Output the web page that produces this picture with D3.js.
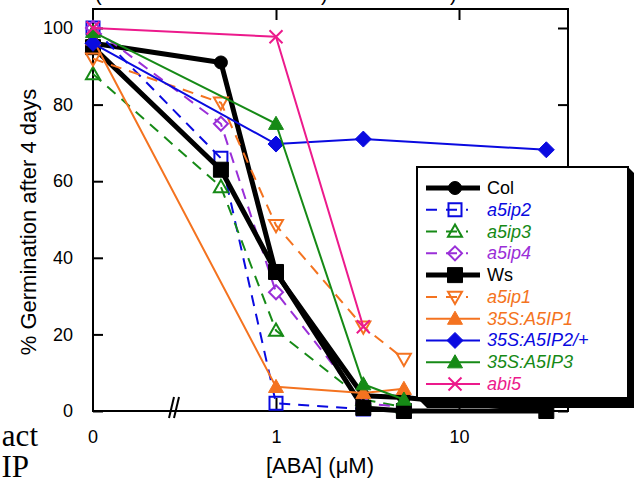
<!DOCTYPE html>
<html>
<head>
<meta charset="utf-8">
<script src="https://cdn.jsdelivr.net/npm/d3@7"></script>
<style>
  body { margin: 0; background: #fff; }
  svg { display: block; font-family: "Liberation Sans", Arial, Helvetica, sans-serif; }
</style>
</head>
<body>
<script>
(function(window){
    'use strict'

    // ABA concentration (uM); 0 sits on the y axis, left of the axis break
    var doses = [0, 0.5, 1, 3, 5, 30];

    // % germination after 4 days (null = no point at that dose)
    var col     = [96, 91, 36, 4, 3.5, 0];
    var a5ip2   = [100, 66, 2, 0.5, 0, null];
    var a5ip3   = [88, 58.5, 21, 3, 1, null];
    var a5ip4   = [100, 75, 31, 2, 1, null];
    var ws      = [95, 63, 36.3, 0.8, 0, 0];
    var a5ip1   = [92, 80.5, 48.5, 22, 13.6, null];
    var oxA5ip1 = [97, null, 6.3, 4.7, 5.8, null];
    var oxA5ip2 = [96, null, 69.7, 71, null, 68.2];
    var oxA5ip3 = [99, null, 75, 7, 3, null];
    var abi5    = [100, null, 97.7, 22, null, null];

    var names = ['Col', 'a5ip2', 'a5ip3', 'a5ip4', 'Ws', 'a5ip1',
                 '35S:A5IP1', '35S:A5IP2/+', '35S:A5IP3', 'abi5'];
    var yTicks = [0, 20, 40, 60, 80, 100];
    var xTicks = [1, 10];
    var xZeroLabel = '0';

    var BLUE = '#0a0ae0', GREEN = '#168a16', PURPLE = '#9a2fd8',
        ORANGE = '#f47320', PINK = '#ec1a8c';

    var series = [
        {v: col,     c: '#000', w: 5, dash: null, m: 'circle',  s: 6.5, fill: true,  it: false},
        {v: a5ip2,   c: BLUE,   w: 2, dash: '11,8', m: 'square', s: 6.5, fill: false, it: true},
        {v: a5ip3,   c: GREEN,  w: 2, dash: '11,8', m: 'up',     s: 7,   fill: false, it: true},
        {v: a5ip4,   c: PURPLE, w: 2, dash: '11,8', m: 'diamond',s: 7,   fill: false, it: true},
        {v: ws,      c: '#000', w: 5, dash: null, m: 'square',  s: 7.5, fill: true,  it: false},
        {v: a5ip1,   c: ORANGE, w: 2, dash: '11,8', m: 'down',   s: 7,   fill: false, it: true},
        {v: oxA5ip1, c: ORANGE, w: 2, dash: null, m: 'up',      s: 7.5, fill: true,  it: true},
        {v: oxA5ip2, c: BLUE,   w: 2, dash: null, m: 'diamond', s: 8,   fill: true,  it: true},
        {v: oxA5ip3, c: GREEN,  w: 2, dash: null, m: 'up',      s: 7.5, fill: true,  it: true},
        {v: abi5,    c: PINK,   w: 2, dash: null, m: 'x',       s: 6.5, fill: false, it: true}
    ];

    var W = 634, H = 480;
    var left = 93, right = 568, top = 9, bottom = 411;

    var xLog = d3.scaleLog().domain([1, 10]).range([276, 459]);
    var y = d3.scaleLinear().domain([0, 100]).range([bottom, 28]);
    function xPos(d) { return d === 0 ? left : xLog(d); }

    var svg = d3.select('body').append('svg')
        .attr('width', W)
        .attr('height', H);

    // bits of the surrounding page that are cut by the crop
    svg.append('g')
        .attr('font-size', 20)
        .selectAll('text')
        .data([['(', 95], [')', 321], [')', 450]])
        .enter().append('text')
        .attr('x', function(d){ return d[1]; })
        .attr('y', 1)
        .text(function(d){ return d[0]; });
    svg.append('g')
        .attr('font-family', '"Liberation Serif", "Times New Roman", serif')
        .attr('font-size', 31)
        .attr('text-anchor', 'end')
        .selectAll('text')
        .data([['act', 38, 446], ['IP', 29, 477]])
        .enter().append('text')
        .attr('x', function(d){ return d[1]; })
        .attr('y', function(d){ return d[2]; })
        .text(function(d){ return d[0]; });

    // frame
    svg.append('rect')
        .attr('x', left).attr('y', top)
        .attr('width', right - left).attr('height', bottom - top)
        .attr('fill', 'none').attr('stroke', '#000').attr('stroke-width', 2);

    function styleAxis(g) {
        g.select('.domain').remove();
        g.selectAll('line').attr('stroke-width', 2);
        g.selectAll('text').attr('font-size', 18).attr('fill', '#000');
    }

    svg.append('g')
        .attr('transform', 'translate(' + left + ',0)')
        .call(d3.axisLeft(y).tickValues(yTicks).tickSizeInner(-10).tickSizeOuter(0).tickPadding(20))
        .call(styleAxis);

    svg.append('g')
        .attr('transform', 'translate(' + right + ',0)')
        .call(d3.axisRight(y).tickValues(yTicks).tickSizeInner(-10).tickSizeOuter(0).tickFormat(''))
        .call(styleAxis);

    svg.append('g')
        .attr('transform', 'translate(0,' + top + ')')
        .call(d3.axisTop(xLog).tickValues(xTicks).tickSizeInner(-11).tickSizeOuter(0).tickFormat(''))
        .call(styleAxis);

    var xAxis = svg.append('g')
        .attr('transform', 'translate(0,' + bottom + ')')
        .call(d3.axisBottom(xLog).tickValues(xTicks).tickFormat(d3.format('d'))
            .tickSizeInner(-13).tickSizeOuter(0).tickPadding(19))
        .call(styleAxis);
    xAxis.append('text')
        .attr('x', xPos(0)).attr('y', 19).attr('dy', '0.71em')
        .attr('font-size', 18).attr('fill', '#000').attr('text-anchor', 'middle')
        .text(xZeroLabel);

    // axis break
    svg.append('g')
        .attr('stroke', '#000').attr('stroke-width', 2)
        .selectAll('line')
        .data([169, 174])
        .enter().append('line')
        .attr('x1', function(d){ return d; }).attr('y1', 418)
        .attr('x2', function(d){ return d + 5; }).attr('y2', 397);

    // titles
    svg.append('text')
        .attr('transform', 'translate(28,222) rotate(-90)')
        .attr('text-anchor', 'middle').attr('dominant-baseline', 'central')
        .attr('font-size', 22)
        .text('% Germination after 4 days');
    svg.append('text')
        .attr('x', 320).attr('y', 473)
        .attr('text-anchor', 'middle')
        .attr('font-size', 22)
        .text('[ABA] (\u03bcM)');

    function markerPath(type, s) {
        switch(type) {
            case 'circle':
                return 'M' + (-s) + ',0A' + s + ',' + s + ' 0 1,1 ' + s + ',0A' + s + ',' + s + ' 0 1,1 ' + (-s) + ',0Z';
            case 'square':
                return 'M' + (-s) + ',' + (-s) + 'H' + s + 'V' + s + 'H' + (-s) + 'Z';
            case 'diamond':
                return 'M0,' + (-s) + 'L' + s + ',0L0,' + s + 'L' + (-s) + ',0Z';
            case 'up':
                return 'M0,' + (-s) + 'L' + s + ',' + (s * 0.75) + 'L' + (-s) + ',' + (s * 0.75) + 'Z';
            case 'down':
                return 'M0,' + s + 'L' + s + ',' + (-s * 0.75) + 'L' + (-s) + ',' + (-s * 0.75) + 'Z';
            case 'x':
                return 'M' + (-s) + ',' + (-s) + 'L' + s + ',' + s + 'M' + s + ',' + (-s) + 'L' + (-s) + ',' + s;
        }
    }

    function drawMarker(g, sr, tx, ty) {
        g.append('path')
            .attr('transform', 'translate(' + tx + ',' + ty + ')')
            .attr('d', markerPath(sr.m, sr.s))
            .attr('fill', sr.fill ? sr.c : 'none')
            .attr('stroke', sr.c)
            .attr('stroke-width', sr.fill ? 1 : 2);
    }

    var line = d3.line()
        .x(function(p){ return xPos(p[0]); })
        .y(function(p){ return y(p[1]); });

    var plot = svg.append('g');
    series.forEach(function(sr) {
        var pts = doses.map(function(d, i){ return [d, sr.v[i]]; })
            .filter(function(p){ return p[1] !== null; });
        var g = plot.append('g');
        g.append('path')
            .attr('d', line(pts))
            .attr('fill', 'none')
            .attr('stroke', sr.c)
            .attr('stroke-width', sr.w)
            .attr('stroke-linejoin', 'round')
            .attr('stroke-dasharray', sr.dash);
        pts.forEach(function(p) {
            drawMarker(g, sr, xPos(p[0]), y(p[1]));
        });
    });

    // legend with extruded shadow
    var L = 417, T = 167, R = 628, B = 398, o = 10;
    svg.append('path')
        .attr('d', 'M' + L + ',' + B + 'L' + (L + o) + ',' + (B + o) + 'L' + (R + o) + ',' + (B + o) +
                   'L' + (R + o) + ',' + (T + o) + 'L' + R + ',' + T + 'Z')
        .attr('fill', '#000');
    svg.append('rect')
        .attr('x', L).attr('y', T).attr('width', R - L).attr('height', B - T)
        .attr('fill', '#fff').attr('stroke', '#000').attr('stroke-width', 2);

    var ly = d3.scaleLinear().domain([0, names.length - 1]).range([188, 384]);
    var legend = svg.append('g');
    series.forEach(function(sr, i) {
        var g = legend.append('g');
        var yy = ly(i);
        g.append('line')
            .attr('x1', 426).attr('x2', sr.dash ? 468 : 480)
            .attr('y1', yy).attr('y2', yy)
            .attr('stroke', sr.c)
            .attr('stroke-width', sr.w)
            .attr('stroke-dasharray', sr.dash ? '11,9' : null);
        drawMarker(g, sr, 455, yy);
        g.append('text')
            .attr('x', 487).attr('y', yy)
            .attr('dominant-baseline', 'central')
            .attr('font-size', 18)
            .attr('font-style', sr.it ? 'italic' : 'normal')
            .attr('fill', sr.c)
            .text(names[i]);
    });

})(window);
</script>
</body>
</html>
